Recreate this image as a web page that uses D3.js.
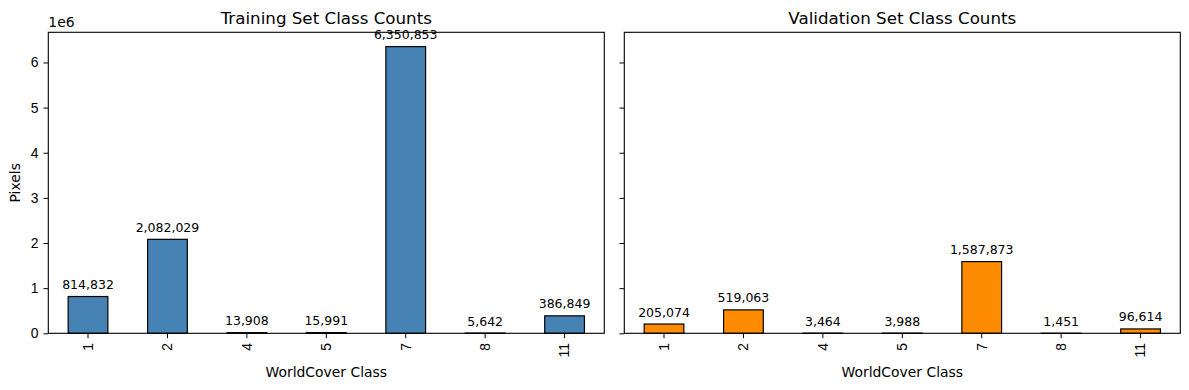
<!DOCTYPE html>
<html><head><meta charset="utf-8">
<script src="https://cdn.jsdelivr.net/npm/d3@7"></script>
<style>body{margin:0;background:#fff}svg{display:block;font-family:"DejaVu Sans",sans-serif}</style>
</head><body>
<svg id="c" width="1189" height="390"></svg>
<script>
const categories = ["1","2","4","5","7","8","11"];
const trainCounts = [814832, 2082029, 13908, 15991, 6350853, 5642, 386849];
const valCounts = [205074, 519063, 3464, 3988, 1587873, 1451, 96614];
const yTicks = [0,1,2,3,4,5,6];
const titles = ["Training Set Class Counts","Validation Set Class Counts"];
const colors = ["#4682B4","#FF8C00"];

(function(){
const svg = d3.select("#c");
const plotTop = 32.3, plotBottom = 333.3;
const panels = [{x0:48.3,x1:604.3,data:trainCounts},{x0:624.3,x1:1180.3,data:valCounts}];
const ymax = d3.max(trainCounts.concat(valCounts))*1.05;
const y = d3.scaleLinear().domain([0,ymax]).range([plotBottom,plotTop]);
const fmt = d3.format(",");
const tl = 4.86, tp = 4.86;

panels.forEach((p,i)=>{
  const g = svg.append("g");
  const x = d3.scaleBand().domain(categories).range([p.x0,p.x1]).paddingInner(0.5).paddingOuter(0.25);
  g.selectAll("rect.bar").data(p.data).join("rect")
    .attr("x",(d,j)=>x(categories[j])).attr("width",x.bandwidth())
    .attr("y",d=>y(d)).attr("height",d=>plotBottom-y(d))
    .attr("fill",colors[i]).attr("stroke","#000").attr("stroke-width",1.2);
  g.selectAll("text.val").data(p.data).join("text")
    .attr("x",(d,j)=>x(categories[j])+x.bandwidth()/2).attr("y",d=>y(d)-7.5)
    .attr("text-anchor","middle").attr("font-size","12.5px").attr("fill","#000")
    .text(d=>fmt(d));
  const xa = g.append("g").attr("transform",`translate(0,${plotBottom})`)
    .call(d3.axisBottom(x).tickSize(tl).tickPadding(tp));
  xa.select(".domain").remove();
  xa.selectAll(".tick line").attr("stroke","#000").attr("stroke-width",1);
  xa.selectAll(".tick text").attr("font-size","13.9px").attr("fill","#000")
    .attr("transform","rotate(-90)").attr("text-anchor","end")
    .attr("x",-(tl+tp)).attr("y",0).attr("dy","0.35em");
  const ya = g.append("g").attr("transform",`translate(${p.x0},0)`)
    .call(d3.axisLeft(y).tickValues(yTicks.map(v=>v*1e6)).tickSize(tl).tickPadding(tp)
      .tickFormat(d=> i===0 ? String(d/1e6) : ""));
  ya.select(".domain").remove();
  ya.selectAll(".tick line").attr("stroke","#000").attr("stroke-width",1);
  ya.selectAll(".tick text").attr("font-size","13.9px").attr("fill","#000");
  g.append("rect").attr("x",p.x0).attr("y",plotTop).attr("width",p.x1-p.x0).attr("height",plotBottom-plotTop)
    .attr("fill","none").attr("stroke","#000").attr("stroke-width",1.1);
  g.append("text").attr("x",(p.x0+p.x1)/2).attr("y",24.3).attr("text-anchor","middle")
    .attr("font-size","16.7px").attr("fill","#000").text(titles[i]);
  g.append("text").attr("x",(p.x0+p.x1)/2).attr("y",376.5).attr("text-anchor","middle")
    .attr("font-size","13.9px").attr("fill","#000").text("WorldCover Class");
});
svg.append("text").attr("x",48.3).attr("y",27).attr("font-size","13.9px").attr("fill","#000").text("1e6");
svg.append("text").attr("transform",`translate(20,${(plotTop+plotBottom)/2}) rotate(-90)`)
  .attr("text-anchor","middle").attr("font-size","13.9px").attr("fill","#000").text("Pixels");
})();
</script>
</body></html>
